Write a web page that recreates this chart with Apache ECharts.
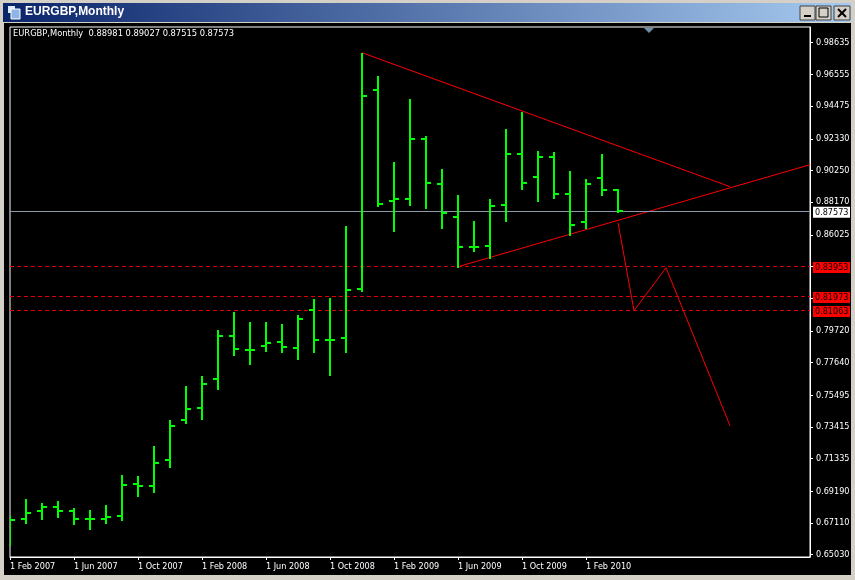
<!DOCTYPE html>
<html><head><meta charset="utf-8">
<style>html,body{margin:0;padding:0;background:#D4D0C8;overflow:hidden}#c{width:855px;height:580px}</style>
<script src="https://cdn.jsdelivr.net/npm/echarts@6/dist/echarts.min.js"></script>
</head><body><div id="c"></div>
<script>
const categories = ['1 Feb 2007','1 Mar 2007','1 Apr 2007','1 May 2007','1 Jun 2007','1 Jul 2007','1 Aug 2007','1 Sep 2007','1 Oct 2007','1 Nov 2007','1 Dec 2007','1 Jan 2008','1 Feb 2008','1 Mar 2008','1 Apr 2008','1 May 2008','1 Jun 2008','1 Jul 2008','1 Aug 2008','1 Sep 2008','1 Oct 2008','1 Nov 2008','1 Dec 2008','1 Jan 2009','1 Feb 2009','1 Mar 2009','1 Apr 2009','1 May 2009','1 Jun 2009','1 Jul 2009','1 Aug 2009','1 Sep 2009','1 Oct 2009','1 Nov 2009','1 Dec 2009','1 Jan 2010','1 Feb 2010','1 Mar 2010','1 Apr 2010',
'','','','','','','','','','','',''];
const opens  = [.67196,.67393,.67918,.68180,.67918,.67393,.67393,.67590,.69690,.69559,.71265,.73891,.74678,.76582,.79404,.78485,.78748,.79010,.78616,.81110,.79141,.79273,.82489,.95550,.88265,.88396,.92334,.89381,.87215,.85246,.85311,.88002,.91350,.89840,.91153,.88724,.86886,.89774,.88981];
const highs  = [.67590,.68705,.68443,.68574,.68115,.67984,.68312,.70281,.70215,.72184,.73891,.76122,.76779,.79798,.80979,.80323,.80323,.80192,.80782,.81832,.81898,.86624,.97979,.96469,.90824,.94959,.92531,.90365,.88659,.86952,.88396,.92990,.94106,.91546,.91481,.90234,.89709,.91350,.89027];
const lows   = [.65686,.67130,.67393,.67524,.67065,.66736,.67130,.67327,.68902,.69165,.70806,.73694,.73956,.75925,.78157,.77566,.78419,.78354,.77894,.78354,.76844,.78354,.82358,.87937,.86296,.88002,.87805,.86493,.83933,.84983,.84524,.86952,.89052,.88265,.88462,.86033,.86493,.88659,.87515];
const closes = [.67327,.67787,.68180,.67918,.67393,.67393,.67524,.69624,.69559,.71068,.73497,.74613,.76254,.79404,.78551,.78485,.78944,.78682,.80520,.79141,.79141,.82423,.95156,.88068,.88396,.92334,.89446,.87477,.85246,.85246,.87937,.91350,.89446,.91153,.88724,.86689,.89381,.88987,.87573];
const tickValues  = [.98635,.96555,.94475,.92330,.90250,.88170,.86025,.83945,.81865,.79720,.77640,.75495,.73415,.71335,.69190,.67110,.65030];
const labelValues = [.98635,.96555,.94475,.92330,.90250,.88170,.86025,.79720,.77640,.75495,.73415,.71335,.69190,.67110,.65030];
const upperTrend  = [[22,.97979],[45,.89184]];
const lowerTrend  = [[28,.83933],[50,.90628]];
const projection  = [[38,.86821],[39,.81045],[41,.83867],[45,.73497]];
const currentPrice = .87573;
const levels = [.83953,.81973,.81063];
const headerText = 'EURGBP,Monthly  0.88981 0.89027 0.87515 0.87573';
const windowTitle = 'EURGBP,Monthly';

const FONT = '"DejaVu Sans Condensed","Open Sans"';
const FS = 9;
const chart = echarts.init(document.getElementById('c'), null, {renderer:'canvas'});
const ohlc = categories.slice(0, opens.length).map((c,i)=>[i,opens[i],highs[i],lows[i],closes[i]]);

function renderBar(params, api){
  const x = api.coord([api.value(0),0])[0];
  const yO = api.coord([0,api.value(1)])[1];
  const yH = api.coord([0,api.value(2)])[1];
  const yL = api.coord([0,api.value(3)])[1];
  const yC = api.coord([0,api.value(4)])[1];
  const s = {fill:'#00FF00'};
  return {type:'group',children:[
    {type:'rect',shape:{x:Math.round(x)-1,y:Math.round(yH),width:2,height:Math.round(yL-yH)+1},style:s},
    {type:'rect',shape:{x:Math.round(x)-5,y:Math.round(yO)-1,width:5,height:2},style:s},
    {type:'rect',shape:{x:Math.round(x),y:Math.round(yC)-1,width:5,height:2},style:s}
  ]};
}
const thinRed = {color:'#FF0000',width:1};
const lineSeries = d => ({type:'line',data:d,symbol:'none',lineStyle:thinRed,silent:true,z:3,animation:false,clip:false});

function btn(x,w,kids){
  return [{type:'rect',z:-5,shape:{x:x,y:6,width:w,height:14},style:{fill:'#D4D0C8',stroke:'#404040',lineWidth:1}}].concat(kids);
}
const chrome = [
  {type:'rect',z:-10,shape:{x:4,y:23,width:847,height:552},style:{fill:'#000'}},
  {type:'rect',z:-9,shape:{x:3,y:3,width:848,height:19},style:{fill:{type:'linear',x:0,y:0,x2:1,y2:0,colorStops:[{offset:0,color:'#0A246A'},{offset:1,color:'#A6CAF0'}]}}},
  {type:'rect',z:-5,shape:{x:8,y:6,width:7,height:7},style:{fill:'#DDE8F8'}},
  {type:'rect',z:-5,shape:{x:11,y:9,width:9,height:10},style:{fill:'#8FB4E8',stroke:'#fff',lineWidth:1}},
  {type:'text',z:5,x:25,y:6,style:{text:windowTitle,fill:'#fff',font:'bold 12px "Liberation Sans"'}},
  {type:'text',z:5,x:13,y:29,style:{text:headerText,fill:'#fff',font:'9.25px '+FONT}},
  {type:'polygon',z:5,shape:{points:[[644,28],[654,28],[649,33]]},style:{fill:'#6F8FA8'}},
  ...btn(800,15,[{type:'rect',z:-4,shape:{x:804,y:15,width:7,height:2},style:{fill:'#000'}}]),
  ...btn(816,15,[{type:'rect',z:-4,shape:{x:819,y:8,width:9,height:9},style:{fill:'none',stroke:'#000',lineWidth:1}}]),
  ...btn(834,16,[
    {type:'line',z:-4,shape:{x1:838,y1:9,x2:846,y2:17},style:{stroke:'#000',lineWidth:2}},
    {type:'line',z:-4,shape:{x1:846,y1:9,x2:838,y2:17},style:{stroke:'#000',lineWidth:2}}
  ])
];

const hLabel = (bg)=>({show:true,position:'end',distance:3,offset:[0,1],formatter:p=>p.value.toFixed(5),backgroundColor:bg,color:'#000',fontFamily:FONT,fontSize:FS,padding:[1,2,0,2],width:33,height:10,lineHeight:10,align:'left'});

chart.setOption({
  animation:false,
  backgroundColor:'transparent',
  textStyle:{fontFamily:FONT},
  graphic:{elements:chrome},
  grid:{left:10,top:27,width:800,height:530,show:true,borderColor:'#fff',borderWidth:1,backgroundColor:'transparent'},
  xAxis:{type:'category',data:categories,boundaryGap:false,
    axisLine:{show:true,lineStyle:{color:'#fff'}},
    axisTick:{show:true,length:3,lineStyle:{color:'#fff'},interval:(i)=>i%4===0&&i<opens.length},
    axisLabel:{color:'#fff',fontFamily:FONT,fontSize:FS,align:'left',margin:5,hideOverlap:false,interval:(i)=>i%4===0&&i<opens.length,formatter:v=>v},
    splitLine:{show:false}},
  yAxis:{type:'value',position:'right',min:.64879,max:.99665,
    axisLine:{show:true,lineStyle:{color:'#fff'}},
    axisTick:{show:true,length:3,lineStyle:{color:'#fff'},customValues:tickValues},
    axisLabel:{color:'#fff',fontFamily:FONT,fontSize:FS,margin:6,customValues:labelValues,formatter:v=>v.toFixed(5)},
    splitLine:{show:false}},
  series:[
    Object.assign(lineSeries(upperTrend),{
      markLine:{silent:true,symbol:'none',animation:false,precision:5,
        data:[
          {yAxis:currentPrice,lineStyle:{color:'#8899AA',width:1,type:'solid'},label:hLabel('#fff')},
          ...levels.map(v=>({yAxis:v,lineStyle:{color:'#E00000',width:1,type:[4,3]},label:hLabel('#FF0000')}))
        ]}
    }),
    lineSeries(lowerTrend),
    lineSeries(projection),
    {type:'custom',data:ohlc,renderItem:renderBar,encode:{x:0,y:[1,2,3,4]},clip:true,silent:true,z:6,animation:false}
  ]
});
</script></body></html>
